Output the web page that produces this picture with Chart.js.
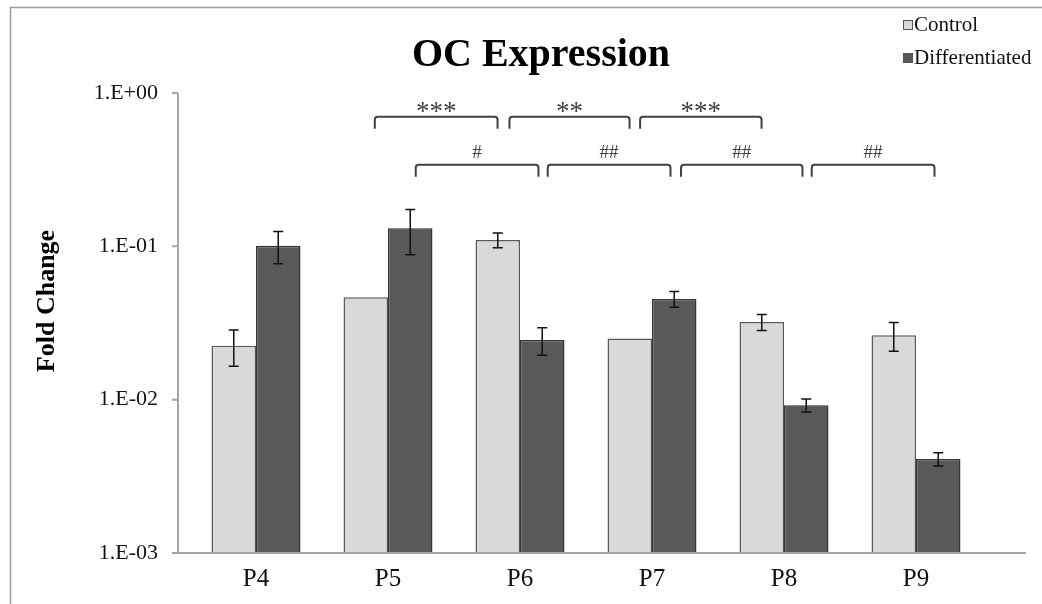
<!DOCTYPE html>
<html>
<head>
<meta charset="utf-8">
<script src="https://cdn.jsdelivr.net/npm/chart.js@4"></script>
<style>
  body { margin: 0; background: #fff; }
  #container { width: 1042px; height: 604px; position: relative; }
</style>
</head>
<body>
<div id="container"><canvas id="myChart"></canvas></div>
<script>
"use strict";

const categories = ["P4", "P5", "P6", "P7", "P8", "P9"];
const controlValues = [0.0225, 0.0465, 0.11, 0.0251, 0.0321, 0.0263];
const controlErrors = [0.006, 0, 0.012, 0, 0.0038, 0.0056];
const diffValues = [0.101, 0.131, 0.0245, 0.0454, 0.0092, 0.0041];
const diffErrors = [0.024, 0.043, 0.005, 0.0053, 0.0009, 0.0004];
const tickValues = [0.001, 0.01, 0.1, 1];
const tickLabels = ["1.E-03", "1.E-02", "1.E-01", "1.E+00"];

// significance brackets: from / to in category units
const sigLabels = ["***", "**", "***", "#", "##", "##", "##"];
const sigFrom = [0.9, 1.92, 2.91, 1.21, 2.21, 3.22, 4.21];
const sigTo = [1.83, 2.83, 3.83, 2.14, 3.14, 4.14, 5.14];
const sigLevel = [0.7, 0.7, 0.7, 0.34, 0.34, 0.34, 0.34];

const serif = "'Liberation Serif', 'Times New Roman', serif";
const axisGrey = "#a6a6a6";

const decorations = {
  id: "decorations",
  beforeDraw(chart) {
    const { ctx } = chart;
    ctx.save();
    ctx.fillStyle = "#fff";
    ctx.fillRect(0, 0, chart.width, chart.height);
    ctx.strokeStyle = "#9a9a9a";
    ctx.lineWidth = 1.5;
    ctx.strokeRect(10.5, 7.5, 1200, 800);
    ctx.restore();
  },
  afterDatasetsDraw(chart) {
    const { ctx, chartArea } = chart;
    const x = chart.scales.x;
    const y = chart.scales.y;
    ctx.save();

    // axes
    const axisX = chartArea.left - 12;
    ctx.strokeStyle = axisGrey;
    ctx.lineWidth = 2;
    ctx.beginPath();
    ctx.moveTo(axisX, chartArea.top);
    ctx.lineTo(axisX, chartArea.bottom);
    ctx.moveTo(axisX - 6, chartArea.bottom);
    ctx.lineTo(1026, chartArea.bottom);
    tickValues.forEach((v) => {
      const py = y.getPixelForValue(v);
      ctx.moveTo(axisX - 6, py);
      ctx.lineTo(axisX, py);
    });
    ctx.stroke();

    // error bars
    ctx.strokeStyle = "#111";
    ctx.lineWidth = 1.5;
    const errs = [controlErrors, diffErrors];
    chart.data.datasets.forEach((ds, di) => {
      chart.getDatasetMeta(di).data.forEach((bar, i) => {
        const e = errs[di][i];
        if (!e) return;
        const yt = y.getPixelForValue(ds.data[i] + e);
        const yb = y.getPixelForValue(ds.data[i] - e);
        ctx.beginPath();
        ctx.moveTo(bar.x, yt);
        ctx.lineTo(bar.x, yb);
        ctx.moveTo(bar.x - 5, yt);
        ctx.lineTo(bar.x + 5, yt);
        ctx.moveTo(bar.x - 5, yb);
        ctx.lineTo(bar.x + 5, yb);
        ctx.stroke();
      });
    });

    // brackets
    ctx.strokeStyle = "#404040";
    ctx.fillStyle = "#404040";
    ctx.lineWidth = 2;
    ctx.textAlign = "center";
    ctx.textBaseline = "middle";
    sigLabels.forEach((label, i) => {
      const x1 = x.getPixelForValue(sigFrom[i]);
      const x2 = x.getPixelForValue(sigTo[i]);
      const py = y.getPixelForValue(sigLevel[i]);
      ctx.beginPath();
      ctx.moveTo(x1, py + 12);
      ctx.lineTo(x1, py + 3);
      ctx.quadraticCurveTo(x1, py, x1 + 3, py);
      ctx.lineTo(x2 - 3, py);
      ctx.quadraticCurveTo(x2, py, x2, py + 3);
      ctx.lineTo(x2, py + 12);
      ctx.stroke();
      ctx.font = (label[0] === "*" ? "27px " : "19px ") + serif;
      ctx.fillText(label, (x1 + x2) / 2, py - (label[0] === "*" ? 4 : 12));
    });

    // title
    ctx.fillStyle = "#000";
    ctx.textBaseline = "alphabetic";
    ctx.font = "bold 40px " + serif;
    ctx.fillText("OC Expression", 541, 66);

    // y axis title
    ctx.save();
    ctx.translate(47, 301);
    ctx.rotate(-Math.PI / 2);
    ctx.textBaseline = "middle";
    ctx.font = "bold 26px " + serif;
    ctx.fillText("Fold Change", 0, 0);
    ctx.restore();

    // legend
    ctx.textAlign = "left";
    ctx.textBaseline = "middle";
    ctx.font = "21px " + serif;
    const legendY = [25, 58];
    chart.data.datasets.forEach((ds, di) => {
      ctx.fillStyle = ds.backgroundColor;
      ctx.fillRect(903, legendY[di] - 5, 10, 10);
      ctx.strokeStyle = "#555";
      ctx.lineWidth = 1;
      ctx.strokeRect(903.5, legendY[di] - 4.5, 9, 9);
      ctx.fillStyle = "#111";
      ctx.fillText(ds.label, 914, legendY[di]);
    });
    ctx.restore();
  },
};

const ctx = document.getElementById("myChart").getContext("2d");
const myChart = new Chart(ctx, {
  type: "bar",
  data: {
    labels: categories,
    datasets: [
      {
        label: "Control",
        data: controlValues,
        backgroundColor: "#d9d9d9",
        borderColor: "#5a5a5a",
        borderWidth: 1.5,
      },
      {
        label: "Differentiated",
        data: diffValues,
        backgroundColor: "#595959",
        borderColor: "#333",
        borderWidth: 1.5,
      },
    ],
  },
  options: {
    responsive: true,
    maintainAspectRatio: false,
    animation: false,
    layout: { padding: { top: 93, right: 60, bottom: 0, left: 0 } },
    datasets: { bar: { categoryPercentage: 0.674, barPercentage: 1 } },
    plugins: {
      legend: { display: false },
      title: { display: false },
      tooltip: { enabled: false },
    },
    scales: {
      x: {
        grid: { display: false, drawTicks: false },
        border: { display: false },
        ticks: { color: "#111", font: { family: serif, size: 25 }, padding: 11 },
        afterFit(scale) {
          scale.height = 51;
        },
      },
      y: {
        type: "logarithmic",
        min: 0.001,
        max: 1,
        grid: { display: false, drawTicks: false },
        border: { display: false },
        ticks: {
          color: "#111",
          font: { family: serif, size: 22 },
          padding: 32,
          callback: (v) => tickLabels[tickValues.findIndex((t) => Math.abs(t - v) < t * 1e-6)],
        },
        afterBuildTicks(scale) {
          scale.ticks = tickValues.map((v) => ({ value: v }));
        },
        afterFit(scale) {
          scale.width = 190;
        },
      },
    },
  },
  plugins: [decorations],
});
</script>
</body>
</html>
